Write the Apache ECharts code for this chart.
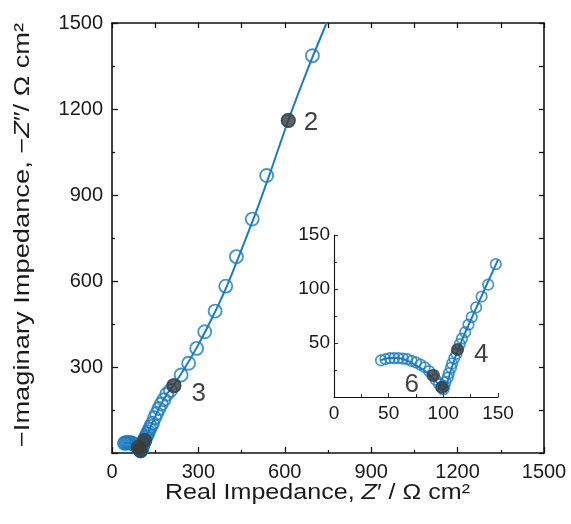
<!DOCTYPE html>
<html>
<head>
<meta charset="utf-8">
<script src="https://cdn.jsdelivr.net/npm/echarts@6/dist/echarts.min.js"></script>
<style>
html,body{margin:0;padding:0;background:#fff;}
#chart{width:571px;height:524px;}
</style>
</head>
<body>
<div id="chart"></div>
<script>
// ---- data (Ω cm²) ----
var measZr = [43,47,51,55,59,63,67,71,75,79,83,87,90,93,96,98,100,
  101,102,104,105,107,108,110,112,113,115,117,120,123,126,130,135,141,148,
  155,163,171,180,190,203,215,240,266,294,322,358,395,432,487,537,612,696];
var measZi = [34,35,36,36,36,35.5,35,33.5,32,30,27.5,24,20,16,12,9,7,
  10,14,18,22,27,31,36,40,44,49,54,60,67,74,83,93,104,123,
  138,155,171,186,205,218,235,272,313,365,423,495,582,685,816,968,1160,1386];
var fitZr = [43,50,58,66,74,82,88,93,97,100,103,107,112,118,125,133,141,150,
  165,190,215,250,300,350,400,450,500,550,612,680,745];
var fitZi = [34,36,36,34,30,25,20,15,10,7,12,25,40,55,71,89,107,127,
  160,205,238,292,378,476,585,710,840,980,1160,1340,1500];
var markZr = [91,99,113,215,612];
var markZi = [20,9,44,235,1160];
var markLabel = ['6','','4','3','2'];
var mainTicks = [0,300,600,900,1200,1500];
var insetTicks = [0,50,100,150];

var blue = '#1b7cc0';
var dark = '#3b3b3b';
var font = 'Liberation Sans, Arial, sans-serif';

function pairs(xs, ys){ return xs.map(function(x,i){ return [x, ys[i]]; }); }
var meas = pairs(measZr, measZi);
var fit = pairs(fitZr, fitZi);
var insetMeas = meas.filter(function(p){ return p[0] <= 150 && p[1] <= 150; });
var insetFit = fit.filter(function(p){ return p[0] <= 152; });

// label placement per labelled point (style, not data)
var mainLabelStyle = {'3': {offset:[4,8]}, '2': {offset:[2,2]}};
var insetLabelStyle = {'4': {position:'right', offset:[4,5]}, '6': {position:'left', offset:[-2,9]}};

function markData(inset){
  var out = [];
  markZr.forEach(function(x,i){
    var lbl = markLabel[i];
    var item = {value:[x, markZi[i]]};
    var st = inset ? insetLabelStyle[lbl] : mainLabelStyle[lbl];
    if (lbl && st) {
      item.label = {show:true, formatter: lbl, position: st.position || 'right',
        offset: st.offset, fontSize: 26, color:'#111', fontFamily: font, distance: 6};
    }
    out.push(item);
  });
  return out;
}

function axisCommon(min, max, interval, opts){
  var a = {
    min:min, max:max, interval:interval,
    axisLine:{show:true, onZero:false, lineStyle:{color:'#111', width:opts.lw}},
    axisTick:{show:true, inside:true, length:opts.tl, lineStyle:{color:'#111', width:opts.lw*0.8}},
    minorTick:{show:true, splitNumber:opts.minorSplit, length:opts.ml, lineStyle:{color:'#111', width:opts.lw*0.8}},
    splitLine:{show:false},
    axisLabel:{show:opts.labels, fontSize:opts.fs, color:'#1a1a1a', fontFamily:font, margin:opts.margin,
      formatter:function(v){ return (opts.hideZero && v===0) ? '' : String(v); }}
  };
  return a;
}

var mainX = axisCommon(0,1500,300,{lw:1.6,tl:6,ml:3,minorSplit:2,labels:true,fs:20,margin:9,hideZero:false});
mainX.gridIndex = 0; mainX.position='bottom'; mainX.type='value';
var mainXTop = axisCommon(0,1500,300,{lw:1.6,tl:5,ml:5,minorSplit:2,labels:false,fs:20,margin:8,hideZero:false});
mainXTop.gridIndex = 0; mainXTop.position='top'; mainXTop.type='value';
var mainY = axisCommon(0,1500,300,{lw:1.6,tl:6,ml:3,minorSplit:2,labels:true,fs:20,margin:9,hideZero:true});
mainY.gridIndex = 0; mainY.position='left'; mainY.type='value';
var mainYRight = axisCommon(0,1500,300,{lw:1.6,tl:5,ml:5,minorSplit:2,labels:false,fs:20,margin:8,hideZero:false});
mainYRight.gridIndex = 0; mainYRight.position='right'; mainYRight.type='value';

var insX = axisCommon(0,150,50,{lw:1.1,tl:4,ml:3,minorSplit:2,labels:true,fs:19,margin:7,hideZero:false});
insX.gridIndex = 1; insX.position='bottom'; insX.type='value';
var insY = axisCommon(0,150,50,{lw:1.1,tl:4,ml:3,minorSplit:2,labels:true,fs:19,margin:4,hideZero:true});
insY.gridIndex = 1; insY.position='left'; insY.type='value';

var titleRich = {n:{fontSize:22, fontFamily:font, fill:'#1a1a1a'}, i:{fontSize:22, fontFamily:font, fontStyle:'italic', fill:'#1a1a1a'}};

var chart = echarts.init(document.getElementById('chart'), null, {renderer:'canvas'});
chart.setOption({
  animation:false,
  backgroundColor:'#ffffff',
  grid:[
    {left:112, top:23, width:432, height:430},
    {left:334, top:235, width:164, height:162}
  ],
  xAxis:[mainX, mainXTop, insX],
  yAxis:[mainY, mainYRight, insY],
  series:[
    {type:'line', xAxisIndex:0, yAxisIndex:0, data:fit, showSymbol:false, smooth:0.3, clip:true,
      lineStyle:{color:blue, width:2}, z:2},
    {type:'scatter', xAxisIndex:0, yAxisIndex:0, data:meas, symbol:'circle', symbolSize:13, clip:true,
      itemStyle:{color:'rgba(255,255,255,0)', borderColor:blue, borderWidth:1.9}, z:3},
    {type:'scatter', xAxisIndex:0, yAxisIndex:0, data:markData(false), symbol:'circle', symbolSize:15,
      itemStyle:{color:dark}, z:4},
    {type:'line', xAxisIndex:2, yAxisIndex:2, data:insetFit, showSymbol:false, smooth:0.3, clip:true,
      lineStyle:{color:blue, width:2}, z:2},
    {type:'scatter', xAxisIndex:2, yAxisIndex:2, data:insetMeas, symbol:'circle', symbolSize:10.5, clip:true,
      itemStyle:{color:'rgba(255,255,255,0)', borderColor:blue, borderWidth:1.7}, z:3},
    {type:'scatter', xAxisIndex:2, yAxisIndex:2, data:markData(true), symbol:'circle', symbolSize:13,
      itemStyle:{color:dark}, z:4}
  ],
  graphic:[
    {type:'text', x:165, y:493, scaleX:1.14, style:{
      text:'{n|Real Impedance, }{i|Z}{n|′ / Ω cm²}',
      align:'left', verticalAlign:'middle', rich:titleRich
    }},
    {type:'text', x:23, y:235, rotation:Math.PI/2, scaleX:1.24, style:{
      text:'{n|−Imaginary Impedance, −}{i|Z}{n|″/ Ω cm²}',
      align:'center', verticalAlign:'middle', rich:titleRich
    }}
  ]
});
</script>
</body>
</html>
